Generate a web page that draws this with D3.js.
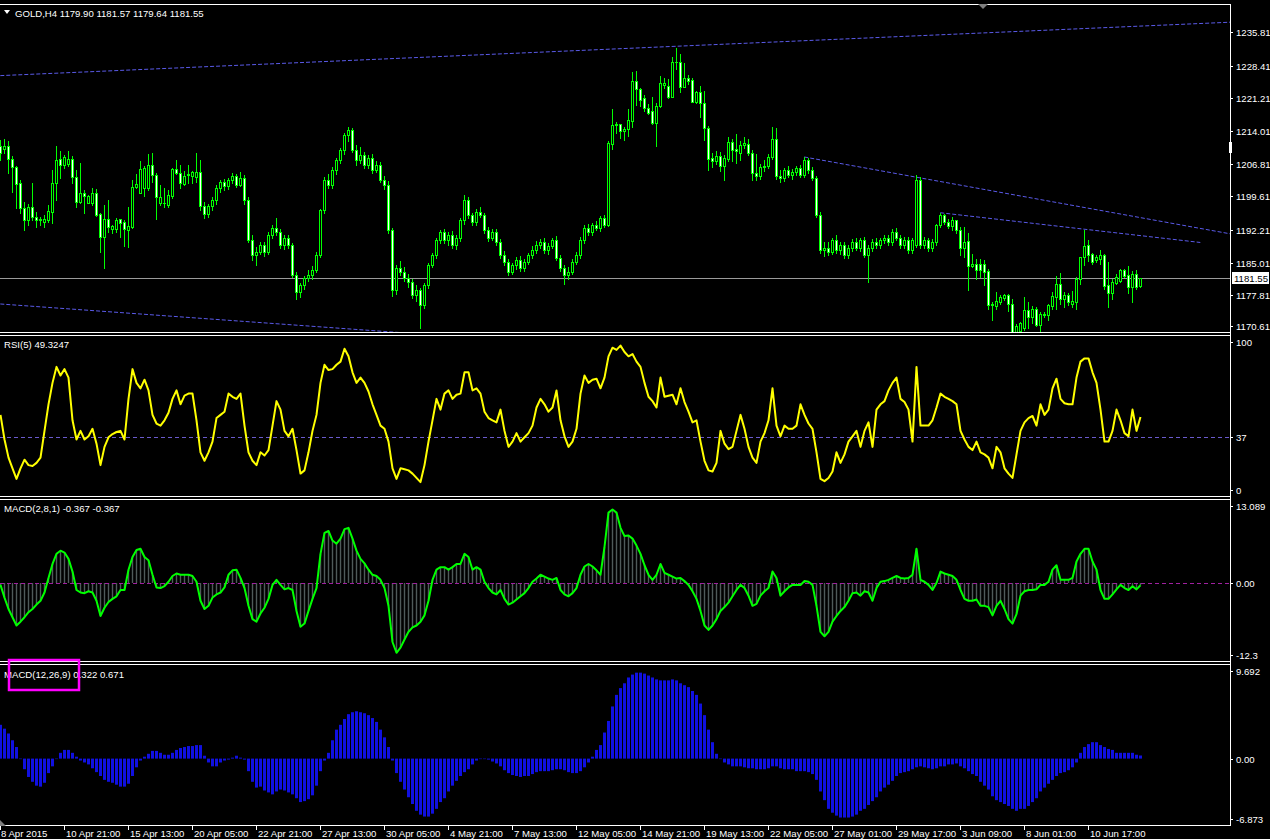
<!DOCTYPE html>
<html><head><meta charset="utf-8">
<script src="https://cdn.jsdelivr.net/npm/d3@7"></script>
<style>html,body{margin:0;padding:0;background:#000;}svg{display:block}</style>
</head><body>
<svg id="c" width="1270" height="839"></svg>
<script>
// ---------------- DATA ----------------
const symbolTitle = "GOLD,H4";
const lastQuote = ["1179.90","1181.57","1179.64","1181.55"];
const timeLabels = ["8 Apr 2015","10 Apr 21:00","15 Apr 13:00","20 Apr 05:00","22 Apr 21:00","27 Apr 13:00","30 Apr 05:00","4 May 21:00","7 May 13:00","12 May 05:00","14 May 21:00","19 May 13:00","22 May 05:00","27 May 01:00","29 May 17:00","3 Jun 09:00","8 Jun 01:00","10 Jun 17:00"];
const timeLabelBars = [0,16,32,48,64,80,96,112,128,144,160,176,192,208,224,240,256,272];
const priceTicks = [1235.81,1228.41,1221.21,1214.01,1206.81,1199.61,1192.21,1185.01,1177.81,1170.61];
const bidPrice = 1181.55;
const rsiTicks = [100,37,0];
const rsiLevel = 37;
const macdFastTicks = [13.089,0.00,-12.3];
const macdSlowTicks = [9.692,0.00,-6.873];
const macdSlowSignal = 0.671;
// open, high, low, close per H4 bar
const ohlc = [
[1210.6,1212.0,1207.6,1209.2],[1210.1,1212.2,1209.1,1210.7],[1210.7,1211.9,1204.7,1207.8],[1207.8,1208.4,1200.6,1206.0],[1206.0,1206.3,1197.1,1202.3],
[1202.5,1203.2,1196.0,1197.0],[1197.0,1198.4,1192.2,1194.5],[1194.4,1197.9,1193.3,1197.2],[1197.2,1202.6,1194.4,1195.1],[1195.1,1196.2,1192.8,1194.4],
[1194.4,1195.1,1193.3,1194.7],[1193.9,1195.5,1192.9,1194.6],[1194.4,1197.6,1194.0,1196.4],[1196.2,1205.4,1193.7,1202.6],[1202.5,1210.7,1198.8,1207.6],
[1207.8,1209.5,1203.6,1206.5],[1206.5,1208.7,1205.8,1208.2],[1206.7,1209.5,1206.2,1207.8],[1207.8,1208.5,1202.5,1203.8],[1203.9,1205.4,1197.3,1198.4],
[1198.4,1206.9,1198.1,1200.3],[1200.3,1201.0,1195.9,1199.7],[1198.2,1199.9,1198.1,1199.7],[1198.2,1201.4,1197.7,1200.4],[1200.4,1201.2,1195.3,1195.5],
[1195.7,1195.9,1187.4,1190.6],[1190.6,1197.7,1183.8,1194.6],[1194.6,1198.8,1191.8,1192.9],[1192.4,1193.3,1191.6,1193.1],[1192.4,1194.8,1191.8,1194.4],
[1194.6,1194.6,1190.6,1193.8],[1193.9,1194.4,1188.7,1192.4],[1192.2,1197.2,1188.5,1193.1],[1192.9,1203.2,1192.6,1201.6],[1201.6,1204.5,1201.4,1202.3],
[1200.4,1207.3,1200.4,1205.6],[1201.4,1206.3,1199.7,1205.8],[1201.4,1208.9,1201.0,1206.5],[1206.5,1209.2,1202.8,1204.3],[1204.3,1204.7,1194.6,1199.4],
[1198.2,1202.1,1197.7,1199.4],[1198.2,1201.4,1197.2,1198.1],[1197.7,1201.0,1197.2,1199.9],[1199.7,1205.8,1199.2,1205.6],[1205.6,1207.6,1204.5,1204.8],
[1204.8,1206.5,1201.4,1202.5],[1202.3,1205.3,1202.1,1204.1],[1204.3,1206.5,1202.5,1204.5],[1204.1,1205.3,1202.5,1205.0],[1203.9,1209.2,1202.8,1205.0],
[1205.0,1207.6,1196.5,1197.5],[1197.5,1198.4,1194.9,1195.7],[1195.7,1198.0,1195.0,1197.5],[1197.5,1199.5,1196.5,1198.8],[1198.8,1202.0,1198.0,1201.5],
[1201.5,1203.2,1200.6,1202.8],[1202.8,1203.5,1201.0,1201.9],[1201.9,1203.6,1201.2,1203.2],[1203.2,1204.8,1202.5,1204.1],[1204.1,1204.6,1201.6,1202.1],
[1202.1,1205.0,1201.8,1203.7],[1203.7,1204.3,1198.0,1198.8],[1198.8,1199.5,1189.5,1190.0],[1190.0,1191.0,1185.5,1186.7],[1186.7,1188.5,1184.5,1187.4],
[1187.4,1189.6,1186.8,1188.9],[1188.9,1189.5,1186.5,1187.4],[1187.4,1191.8,1187.0,1191.1],[1191.1,1193.3,1190.5,1192.6],[1192.6,1194.8,1191.0,1191.8],
[1191.8,1192.4,1188.2,1188.9],[1188.9,1191.0,1188.0,1190.4],[1190.4,1191.2,1188.3,1188.9],[1188.9,1189.4,1181.8,1182.3],[1182.3,1183.0,1176.9,1178.5],
[1178.5,1180.6,1177.5,1180.1],[1180.1,1182.0,1179.2,1181.6],[1181.6,1183.4,1180.9,1182.3],[1182.3,1184.2,1181.5,1183.4],[1183.4,1187.3,1182.9,1186.7],
[1186.7,1196.9,1186.2,1196.6],[1196.6,1203.8,1195.9,1203.2],[1203.2,1204.6,1201.4,1202.1],[1202.1,1206.0,1201.5,1205.4],[1205.4,1208.0,1204.6,1207.6],
[1207.6,1210.3,1206.9,1209.8],[1209.8,1213.5,1209.0,1213.1],[1213.1,1214.9,1211.8,1214.2],[1214.2,1214.6,1209.4,1209.8],[1209.8,1211.0,1206.6,1207.6],
[1207.6,1210.5,1207.0,1208.7],[1208.7,1209.4,1205.8,1206.5],[1206.5,1208.8,1205.9,1208.1],[1208.1,1208.9,1204.8,1205.4],[1205.4,1207.4,1204.9,1206.5],
[1206.5,1207.1,1202.8,1203.2],[1203.2,1204.0,1201.2,1202.1],[1202.1,1202.9,1191.6,1192.2],[1192.2,1192.6,1177.7,1179.0],[1179.0,1184.5,1178.0,1183.8],
[1183.8,1185.3,1182.2,1183.0],[1183.0,1184.0,1180.9,1181.6],[1181.6,1182.6,1179.6,1180.7],[1180.7,1181.5,1177.3,1177.9],[1177.9,1180.0,1176.6,1179.0],
[1179.0,1179.5,1170.5,1175.7],[1175.7,1180.6,1175.0,1180.1],[1180.1,1185.0,1179.4,1184.5],[1184.5,1187.2,1184.0,1186.7],[1186.7,1190.4,1186.0,1190.0],
[1190.0,1192.2,1189.4,1191.8],[1191.8,1192.5,1189.3,1190.0],[1190.0,1191.7,1188.9,1191.1],[1191.1,1191.9,1188.2,1188.9],[1188.9,1191.0,1188.0,1190.4],
[1190.4,1194.8,1189.8,1194.4],[1194.4,1199.8,1193.5,1198.8],[1198.8,1199.5,1194.9,1195.5],[1195.5,1196.0,1193.2,1194.0],[1194.0,1196.8,1193.2,1196.2],
[1196.2,1197.2,1195.0,1195.5],[1195.5,1196.0,1191.6,1192.2],[1192.2,1192.9,1189.8,1190.4],[1190.4,1192.5,1189.9,1191.8],[1191.8,1192.4,1189.0,1189.6],
[1189.6,1190.2,1186.0,1186.7],[1186.7,1187.5,1184.5,1185.2],[1185.2,1185.8,1182.3,1183.0],[1183.0,1185.0,1182.4,1184.5],[1184.5,1186.3,1183.7,1185.6],
[1185.6,1186.5,1183.2,1183.8],[1183.8,1185.7,1183.2,1185.2],[1185.2,1187.2,1184.6,1186.7],[1186.7,1188.6,1186.0,1187.8],[1187.8,1189.7,1187.1,1188.9],
[1188.9,1190.2,1188.2,1189.6],[1189.6,1190.4,1187.2,1187.8],[1187.8,1189.3,1187.0,1188.7],[1188.7,1190.5,1188.2,1190.0],[1190.0,1190.8,1185.5,1186.0],
[1186.0,1186.6,1183.2,1183.8],[1183.8,1184.5,1180.2,1182.3],[1182.3,1184.0,1181.5,1183.0],[1183.0,1185.8,1182.5,1185.2],[1185.2,1187.3,1184.6,1186.7],
[1186.7,1190.6,1186.0,1190.0],[1190.0,1193.2,1189.4,1192.6],[1192.6,1193.5,1191.0,1191.8],[1191.8,1193.8,1191.2,1193.3],[1193.3,1194.2,1192.1,1192.6],
[1192.6,1195.2,1192.0,1194.8],[1194.8,1195.5,1192.8,1193.3],[1193.3,1211.8,1193.0,1211.3],[1211.1,1218.8,1210.0,1215.3],[1215.3,1216.0,1213.6,1215.5],
[1215.5,1215.5,1212.4,1213.9],[1213.9,1214.8,1212.0,1214.5],[1214.4,1218.8,1212.9,1216.4],[1216.3,1227.0,1214.8,1225.0],[1225.0,1227.2,1219.7,1223.2],
[1223.2,1223.4,1219.4,1220.8],[1221.2,1221.9,1218.3,1219.0],[1219.0,1219.9,1217.8,1217.9],[1218.3,1221.6,1215.5,1215.8],[1215.8,1220.1,1210.7,1219.5],
[1219.4,1226.1,1219.2,1224.5],[1224.2,1225.6,1223.4,1224.6],[1224.0,1225.5,1221.3,1221.6],[1221.6,1230.2,1221.6,1229.3],[1229.3,1232.2,1227.7,1229.2],
[1229.3,1231.0,1222.5,1223.8],[1223.8,1228.9,1223.6,1225.6],[1225.6,1226.3,1224.4,1225.1],[1225.2,1225.6,1220.3,1220.5],[1220.5,1222.9,1220.1,1222.7],
[1222.7,1223.9,1217.0,1220.1],[1220.1,1222.8,1212.0,1214.6],[1214.6,1215.1,1205.4,1207.8],[1208.0,1209.1,1206.1,1207.5],[1207.5,1209.6,1206.7,1208.5],
[1208.5,1209.4,1205.1,1206.3],[1206.3,1208.7,1203.2,1208.0],[1207.8,1212.6,1207.5,1211.6],[1211.6,1212.2,1207.3,1209.8],[1210.0,1213.3,1206.9,1209.6],
[1209.1,1211.7,1207.6,1211.0],[1211.0,1212.6,1210.2,1211.3],[1211.1,1212.2,1208.7,1209.2],[1209.2,1209.9,1203.2,1204.7],[1204.7,1208.9,1203.2,1204.0],
[1204.0,1206.7,1203.4,1206.0],[1206.0,1207.6,1205.1,1206.4],[1206.3,1208.9,1205.8,1208.2],[1208.2,1214.8,1207.8,1212.2],[1212.2,1214.6,1203.4,1204.1],
[1204.1,1205.5,1202.8,1203.6],[1203.6,1205.9,1203.0,1205.4],[1205.4,1206.2,1203.8,1204.3],[1204.3,1205.6,1203.5,1205.0],[1205.0,1206.4,1204.3,1205.8],
[1205.8,1206.5,1203.9,1204.3],[1204.3,1208.3,1203.8,1207.6],[1207.6,1208.0,1204.8,1205.4],[1205.4,1206.0,1203.1,1203.6],[1203.6,1204.2,1195.0,1195.5],
[1195.5,1196.1,1187.2,1187.8],[1187.8,1189.5,1186.5,1188.2],[1188.2,1189.6,1186.7,1187.4],[1187.4,1190.5,1186.9,1190.0],[1190.0,1191.0,1187.2,1187.8],
[1187.8,1189.6,1187.0,1188.9],[1188.9,1189.5,1186.0,1186.7],[1186.7,1188.8,1186.0,1188.2],[1188.2,1190.2,1187.6,1189.6],[1189.6,1190.5,1187.7,1188.2],
[1188.2,1190.5,1187.5,1190.0],[1190.0,1190.7,1186.2,1186.7],[1186.7,1188.8,1180.8,1188.2],[1188.2,1190.2,1187.5,1189.6],[1189.6,1190.5,1188.3,1188.9],
[1188.9,1190.5,1188.3,1190.0],[1190.0,1191.2,1189.3,1190.4],[1190.4,1191.0,1189.0,1189.6],[1189.6,1192.4,1189.0,1191.8],[1191.8,1192.6,1189.9,1190.4],
[1190.4,1191.2,1188.3,1188.9],[1188.9,1190.6,1188.2,1190.0],[1190.0,1190.6,1187.2,1187.8],[1187.8,1190.4,1187.2,1190.0],[1189.0,1204.3,1188.5,1203.2],
[1203.2,1203.8,1188.3,1188.9],[1188.9,1190.6,1188.2,1190.0],[1190.0,1190.5,1187.6,1188.2],[1188.2,1190.2,1187.6,1189.6],[1189.6,1193.6,1189.0,1193.3],
[1193.3,1196.0,1192.8,1195.5],[1195.5,1195.8,1193.6,1194.0],[1194.0,1194.6,1192.6,1193.1],[1193.1,1195.1,1192.3,1194.4],[1194.4,1194.5,1191.5,1192.3],
[1192.3,1192.9,1186.7,1188.3],[1188.3,1192.9,1186.3,1189.6],[1189.8,1191.6,1179.0,1184.3],[1184.3,1186.9,1184.0,1184.8],[1184.8,1185.7,1181.5,1183.4],
[1184.7,1185.7,1181.9,1183.4],[1184.6,1185.6,1180.1,1183.0],[1183.2,1183.7,1174.9,1175.7],[1175.7,1176.4,1172.4,1175.9],[1175.5,1178.5,1174.9,1176.6],
[1176.3,1177.9,1176.0,1177.5],[1177.3,1178.2,1176.8,1177.9],[1177.9,1178.2,1174.4,1175.9],[1176.0,1177.0,1167.5,1169.0],[1169.0,1171.6,1167.5,1171.0],
[1170.0,1172.0,1168.5,1171.8],[1170.5,1177.5,1170.2,1174.6],[1174.6,1176.4,1170.5,1173.0],[1173.0,1175.5,1171.8,1174.8],[1174.8,1175.3,1171.0,1171.3],
[1171.3,1174.2,1169.8,1173.7],[1173.7,1174.2,1173.1,1173.5],[1173.5,1176.0,1172.4,1175.7],[1175.5,1178.6,1174.9,1177.7],[1177.4,1182.1,1174.9,1180.3],
[1180.3,1182.8,1176.0,1177.1],[1177.0,1178.6,1175.2,1177.9],[1177.9,1178.4,1175.7,1176.4],[1176.0,1178.8,1175.2,1176.5],[1176.4,1181.9,1174.9,1181.5],
[1181.5,1186.3,1180.4,1186.2],[1186.2,1192.3,1184.5,1188.7],[1188.9,1190.0,1185.4,1186.7],[1186.9,1187.2,1184.8,1185.2],[1185.6,1186.7,1185.2,1186.2],
[1185.9,1187.8,1184.8,1186.7],[1186.7,1186.9,1179.3,1179.9],[1180.1,1185.2,1175.3,1178.4],[1178.4,1181.3,1177.0,1180.8],[1180.6,1182.5,1180.3,1181.8],
[1181.0,1183.5,1180.8,1183.4],[1183.4,1183.7,1181.9,1182.1],[1182.3,1184.3,1178.4,1179.6],[1179.7,1183.2,1176.4,1182.6],[1182.6,1183.4,1179.1,1179.6],
[1179.90,1181.57,1179.64,1181.55]
];
const rsi = [
50.7,35.3,24,17.3,10.7, 17.3,22.7,19.3,18.7,20.7, 24,40.7,57.3,70.7,80.7, 75.3,79.3,74,47.3,35.3,
40.7,35.3,37.3,42,32.7, 19.3,30.7,36.7,38.7,40, 40.7,35.3,60.7,79.3,70.7, 67.3,72.7,66,50.7,45.3,
44,47.3,52,60.7,66, 57.3,62.7,64,64,47.3, 27.3,22,27.3,34,48.7, 50.7,52.7,64,62,60.7,
64,44,27.3,22,19.3, 27.3,25.3,28.7,44,59.3, 54,40.7,37.3,42,28.7, 14,16,27.3,40.7,50.7,
70.7,82,78.7,79.3,82, 84,92,87.3,77.3,70.7, 74,70.7,65.3,57.3,50.7, 44,42,34,17.3,10.7,
17.3,16.7,16,14,11.3, 8.7,19.3,34,47.3,60.7, 54,64,66,60.7,63.3, 64,77.3,77.3,66,67.3,
64,52.7,48.7,47.3,46, 54,40.7,30.7,34,39.3, 34,36.7,39.3,44,55.3, 60.7,57.3,52.7,55.3,66,
47.3,37.3,30.7,34,42, 64,75.3,70.7,72.7,73.3, 67.3,74,87.3,92.7,91.3, 94,90,87.3,88.7,84,
80.7,70.7,62,59.3,55.3, 74,62,62.7,63.3,57.3, 67.3,58.7,52.7,46,47.3, 34,22,16,15.3,20.7,
40.7,32.7,29.3,30.7,40.7, 50.7,42,30.7,24,20.7, 34,39.3,47.3,67.3,44, 37.3,44,42,42,44,
57.3,50.7,45.3,42,27.3, 10.7,9.3,11.3,15.3,27.3, 20.7,26,34,37.3,40.7, 30.7,40.7,46,30.7,54,
57.3,59.3,66,70.7,74, 60.7,58.7,54,34,80.7, 44,44,44,47.3,55.3, 64,62,60.7,59.3,57.3,
40.7,35.3,30.7,28.7,34, 27.3,26,24,17.3,30.7, 27.3,17.3,14,11.3,26, 40.7,46,48.7,50,44,
57.3,50.7,54,67.3,73.3, 60.7,58,57.3,57.3,74, 84,86,86,77.3,70.7, 54,34,34,40.7,54,
47.3,39.3,37.3,54,40.7, 49.3247
];
const macdFast = [
-0.3,-2.3,-4.1,-5.4,-6.7, -6.1,-5.4,-4.6,-4.1,-3.4, -2.8,-1.5,0.8,3.0,4.6, 5.1,4.8,3.8,1.8,-1.1,
-1.5,-1.6,-1.3,-1.5,-2.8, -5.2,-3.9,-3.0,-2.5,-2.1, -1.1,-1.1,2.1,4.1,5.2, 5.4,4.1,3.6,1.3,-0.7,
-0.8,-0.5,0.2,1.1,1.5, 1.3,1.3,1.3,1.1,0.2, -2.8,-4.1,-3.6,-2.3,-1.8, -1.5,-0.7,1.3,2.0,2.1,
0.8,-0.8,-3.6,-5.7,-6.1, -4.8,-3.9,-2.5,-0.3,0.5, -0.3,-1.0,-0.8,-1.1,-4.4, -6.9,-6.4,-4.4,-2.5,-0.8,
4.6,7.9,8.2,6.7,6.2, 7.0,8.5,8.7,7.0,5.1, 3.8,3.1,2.1,1.3,1.1, 0.5,-0.8,-3.6,-9.3,-11.0,
-10.2,-8.9,-7.7,-7.0,-6.7, -6.1,-5.1,-2.8,0.5,2.1, 2.5,2.5,2.1,2.5,3.0, 3.0,4.6,4.1,2.1,2.5,
2.1,0.2,-0.8,-1.5,-1.8, -1.1,-2.5,-3.4,-3.1,-2.6, -2.1,-1.6,-0.8,0.2,0.7, 1.3,1.0,0.7,0.5,0.8,
-1.1,-1.8,-2.1,-1.6,-0.8, 1.3,2.6,3.0,2.6,2.0, 1.3,5.7,11.1,11.6,11.1, 8.7,7.4,7.5,7.0,5.9,
4.6,2.8,1.3,0.5,1.3, 3.0,1.6,1.3,1.0,0.7, 0.8,0.3,-0.3,-1.3,-2.5, -4.4,-6.7,-7.4,-6.7,-5.7,
-4.4,-3.8,-3.1,-2.1,-1.1, -0.3,-0.8,-2.0,-3.6,-3.3, -2.0,-1.3,-0.8,1.8,0.8, -2.0,-1.3,-0.7,-0.3,-0.3,
-0.3,0.3,0.2,-0.3,-3.6, -7.7,-8.4,-7.7,-6.1,-5.2, -4.4,-3.8,-2.8,-1.6,-1.5, -2.0,-1.3,-1.5,-2.8,-0.8,
0.2,0.3,0.5,0.8,1.1, 0.8,0.7,0.8,1.3,5.4, 0.5,0.2,-0.3,-1.1,0, 1.8,1.5,1.3,1.1,0.5,
-1.1,-2.5,-2.8,-2.8,-2.6, -3.6,-3.6,-3.8,-5.1,-3.6, -2.8,-4.1,-5.7,-6.4,-4.9, -2.0,-1.3,-1.1,-1.1,-1.0,
-0.3,-0.3,0.2,2.1,2.8, 0.5,0.5,0.5,0.8,3.4, 4.6,5.4,5.4,3.4,2.1, -1.1,-2.5,-2.5,-1.8,-1.0,
-0.3,-0.8,-1.1,-0.5,-1.0, -0.367
];
const macdSlow = [
3.5,3.1,2.6,1.9,1.2, 0,-1.1,-1.9,-2.4,-2.8, -2.9,-2.5,-1.5,-0.8,0, 0.6,0.9,0.9,0.6,0.2,
-0.2,-0.4,-0.6,-1.0,-1.4, -1.8,-2.2,-2.4,-2.5,-2.7, -2.9,-2.9,-2.6,-1.8,-0.9, -0.2,0.2,0.5,0.8,0.8,
0.6,0.4,0.4,0.6,0.9, 1.1,1.2,1.3,1.3,1.4, 1.4,0.3,-0.4,-0.8,-0.8, -0.4,-0.2,-0.1,0.1,0.3,
0.1,-0.1,-1.3,-2.4,-3.0, -2.9,-3.3,-3.5,-3.7,-3.4, -3.2,-3.3,-3.5,-3.7,-4.1, -4.5,-4.4,-4.2,-3.8,-2.8,
-1.3,-0.2,0.6,1.9,3.0, 3.5,4.1,4.6,4.8,4.9, 4.8,4.7,4.5,4.2,3.8, 3.0,2.2,1.2,-0.2,-1.5,
-2.4,-3.2,-4.0,-4.7,-5.4, -5.8,-6.0,-6.0,-5.7,-5.2, -4.5,-4.1,-3.4,-2.8,-2.3, -1.8,-1.4,-1.1,-0.6,-0.2,
0,0,-0.1,-0.3,-0.5, -0.8,-1.2,-1.5,-1.7,-1.8, -1.9,-1.8,-1.8,-1.6,-1.4, -1.3,-1.3,-1.3,-1.2,-1.1,
-1.1,-1.2,-1.4,-1.5,-1.5, -1.3,-0.9,-0.4,0.2,0.9, 1.4,2.7,3.9,5.4,6.6, 7.3,7.8,8.4,8.7,8.9,
8.9,8.8,8.6,8.4,8.2, 8.1,8.1,8.1,8.2,8.1, 7.8,7.6,7.4,7.0,6.6, 5.7,4.5,3.0,1.7,0.5,
0,-0.4,-0.6,-0.8,-0.8, -0.8,-0.9,-1.0,-1.0,-1.1, -1.1,-1.1,-1.0,-0.8,-0.8, -1.0,-1.1,-1.1,-1.1,-1.3,
-1.3,-1.3,-1.4,-1.6,-2.2, -3.4,-4.3,-5.2,-5.6,-5.9, -6.1,-6.1,-6.1,-6.0,-5.8, -5.4,-5.2,-4.8,-4.4,-4.0,
-3.4,-3.0,-2.7,-2.3,-1.8, -1.5,-1.4,-1.3,-1.1,-0.9, -0.8,-0.9,-1.0,-1.1,-1.0, -0.8,-0.8,-0.6,-0.6,-0.5,
-0.8,-1.0,-1.3,-1.6,-1.8, -2.4,-2.8,-3.2,-3.9,-4.3, -4.5,-4.7,-4.9,-5.2,-5.4, -5.2,-5.2,-4.9,-4.5,-4.1,
-3.4,-3.0,-2.6,-2.2,-1.8, -1.5,-1.4,-1.2,-0.9,-0.4, 0.6,1.2,1.5,1.7,1.7, 1.4,1.2,1.0,0.9,0.6,
0.6,0.6,0.6,0.6,0.4, 0.322
];
// trend lines: [bar, price] anchors
const trendUpper = [[0,1226.2],[307,1237.95]];
const trendLowerLeft = [[0,1175.9],[50,1172.75]];
const trendDownA = [[201,1208.28],[305,1191.75]];
const trendDownB = [[235,1196.0],[300,1189.45]];

// ---------------- LAYOUT ----------------
const W = 1270, H = 839, AX = 1230;
const FONT = "'Liberation Sans', Arial, sans-serif";
const FS = 9.6;
const P = {
  main: {top:5, bottom:332},
  rsi:  {top:336, bottom:496},
  m1:   {top:500, bottom:661},
  m2:   {top:665, bottom:825}
};
const svg = d3.select('#c');
svg.append('rect').attr('width',W).attr('height',H).attr('fill','#000');

const x = d3.scaleLinear().domain([0,285]).range([0.3,1140.3]);
const px = i => Math.round(x(i));
const yP = d3.scaleLinear().domain([1170.61,1235.81]).range([328,32]);
const yR = d3.scaleLinear().domain([0,100]).range([P.rsi.bottom,P.rsi.top]);
const yM1 = d3.scaleLinear().domain([-12.3,13.089]).range([P.m1.bottom,P.m1.top]);
const yM2 = d3.scaleLinear().domain([-6.873,9.692]).range([P.m2.bottom,P.m2.top]);

const defs = svg.append('defs');
function clip(id,p){
  defs.append('clipPath').attr('id',id).append('rect').attr('x',0).attr('y',p.top).attr('width',AX).attr('height',p.bottom-p.top);
}
clip('cm',P.main); clip('cr',P.rsi); clip('c1',P.m1); clip('c2',P.m2);

// ---------- main panel ----------
const gm = svg.append('g').attr('clip-path','url(#cm)');
const byy = Math.round(yP(bidPrice))+0.5;
gm.append('line').attr('x1',0).attr('x2',AX).attr('y1',byy).attr('y2',byy)
  .attr('stroke','#9a9a9a').attr('stroke-width',1);
function trend(anch, extend){
  const [a,b] = anch;
  const slope = (b[1]-a[1])/(b[0]-a[0]);
  const endBar = extend ? x.invert(AX) : b[0];
  const pts = [[a[0],a[1]],[endBar, a[1]+slope*(endBar-a[0])]];
  gm.append('path').attr('d', d3.line().x(d=>x(d[0])).y(d=>yP(d[1]))(pts))
    .attr('fill','none').attr('stroke','#5a5ae8').attr('stroke-width',1).attr('stroke-dasharray','4,2');
}
trend(trendUpper,true); trend(trendLowerLeft,true); trend(trendDownA,true); trend(trendDownB,false);
const cg = gm.append('g');
ohlc.forEach((d,i)=>{
  const [o,h,l,c] = d; const cx = px(i);
  cg.append('line').attr('x1',cx+0.5).attr('x2',cx+0.5).attr('y1',Math.round(yP(h))).attr('y2',Math.round(yP(l))+1)
    .attr('stroke','#00ff00').attr('stroke-width',1);
  const yt = Math.round(yP(Math.max(o,c))), yb = Math.round(yP(Math.min(o,c)));
  cg.append('rect').attr('x',cx-0.5).attr('y',yt+0.5).attr('width',2).attr('height',Math.max(0.01,yb-yt))
    .attr('fill', c < o ? '#ffffff' : '#000000').attr('stroke','#00ff00').attr('stroke-width',1);
});

// ---------- RSI ----------
const gr = svg.append('g').attr('clip-path','url(#cr)');
const ry = Math.round(yR(rsiLevel))+0.5;
gr.append('line').attr('x1',0).attr('x2',AX).attr('y1',ry).attr('y2',ry)
  .attr('stroke','#6a5acd').attr('stroke-dasharray','4,3');
gr.append('path').attr('d', d3.line().x((d,i)=>px(i)+0.5).y(d=>yR(d))(rsi))
  .attr('fill','none').attr('stroke','#ffff00').attr('stroke-width',2).attr('stroke-linejoin','round');

// ---------- MACD fast ----------
const g1 = svg.append('g').attr('clip-path','url(#c1)');
macdFast.forEach((v,i)=>{
  g1.append('line').attr('x1',px(i)+0.5).attr('x2',px(i)+0.5).attr('y1',yM1(0)).attr('y2',yM1(v))
    .attr('stroke','#4f5a5a').attr('stroke-width',1.4);
});
const zy = Math.round(yM1(0))+0.5;
g1.append('line').attr('x1',0).attr('x2',AX).attr('y1',zy).attr('y2',zy)
  .attr('stroke','#a020a0').attr('stroke-dasharray','4,3');
g1.append('path').attr('d', d3.line().x((d,i)=>px(i)+0.5).y(d=>yM1(d))(macdFast))
  .attr('fill','none').attr('stroke','#00ff00').attr('stroke-width',2).attr('stroke-linejoin','round');

// ---------- MACD slow ----------
const g2 = svg.append('g').attr('clip-path','url(#c2)');
macdSlow.forEach((v,i)=>{
  const y0 = yM2(0), y1 = yM2(v);
  g2.append('rect').attr('x',px(i)-1).attr('width',3).attr('y',Math.min(y0,y1)).attr('height',Math.max(0.5,Math.abs(y1-y0)))
    .attr('fill','#1010e0');
});

// ---------- frames ----------
const fr = svg.append('g').attr('stroke','#fff').attr('stroke-width',1);
fr.append('line').attr('x1',0).attr('x2',AX).attr('y1',4.5).attr('y2',4.5);
[P.main.bottom+0.5,P.rsi.top-0.5,P.rsi.bottom+0.5,P.m1.top-0.5,P.m1.bottom+0.5,P.m2.top-0.5,P.m2.bottom+0.5].forEach(yy=>{
  fr.append('line').attr('x1',0).attr('x2',AX+1).attr('y1',yy).attr('y2',yy);
});
fr.append('line').attr('x1',AX+0.5).attr('x2',AX+0.5).attr('y1',4).attr('y2',P.m2.bottom+1);
svg.append('rect').attr('x',AX-1).attr('y',142).attr('width',3).attr('height',11).attr('fill','#fff');
svg.append('path').attr('d','M978,4 L988,4 L983,9 Z').attr('fill','#7f7f7f');
svg.append('path').attr('d','M0,820 L0,826 L6,826 Z').attr('fill','#7f7f7f');

// ---------- labels ----------
const txt = (g,xx,yy,s,opt={}) => g.append('text').attr('x',xx).attr('y',yy).text(s)
  .attr('fill',opt.fill||'#fff').attr('font-family',FONT).attr('font-size',opt.size||FS)
  .attr('dominant-baseline','central');
const lab = svg.append('g');
function rightAxis(ticks, scale, p, fmt){
  ticks.forEach(t=>{
    let yy = Math.round(scale(t));
    yy = Math.max(p.top+6, Math.min(p.bottom-6, yy));
    lab.append('line').attr('x1',AX).attr('x2',AX+3).attr('y1',yy+0.5).attr('y2',yy+0.5).attr('stroke','#fff');
    txt(lab, AX+6, yy+0.5, fmt(t));
  });
}
rightAxis(priceTicks, yP, P.main, t=>t.toFixed(2));
rightAxis(rsiTicks, yR, P.rsi, t=>String(t));
rightAxis(macdFastTicks, yM1, P.m1, t=>t===0?'0.00':String(t));
rightAxis(macdSlowTicks, yM2, P.m2, t=>t===0?'0.00':String(t));
const by = Math.round(yP(bidPrice));
lab.append('rect').attr('x',AX+2).attr('y',by-6).attr('width',37).attr('height',12).attr('fill','#fff');
txt(lab, AX+4, by+0.5, bidPrice.toFixed(2), {fill:'#000'});

timeLabelBars.forEach((b,k)=>{
  const xx = px(b);
  lab.append('line').attr('x1',xx+0.5).attr('x2',xx+0.5).attr('y1',P.m2.bottom+1).attr('y2',P.m2.bottom+5).attr('stroke','#fff');
  txt(lab, k===0 ? 1 : xx+2, 833, timeLabels[k]);
});

lab.append('path').attr('d','M4,10 L10,10 L7,14 Z').attr('fill','#fff');
txt(lab, 15, 13, symbolTitle + '  ' + lastQuote.join(' '));
txt(lab, 4, 344, 'RSI(5) ' + rsi[rsi.length-1].toFixed(4));
const mf = macdFast[macdFast.length-1].toFixed(3);
txt(lab, 4, 508, 'MACD(2,8,1) ' + mf + ' ' + mf);
txt(lab, 4, 674, 'MACD(12,26,9) ' + macdSlow[macdSlow.length-1].toFixed(3) + ' ' + macdSlowSignal.toFixed(3));
svg.append('rect').attr('x',9).attr('y',660).attr('width',70).attr('height',30)
  .attr('fill','none').attr('stroke','#ff00ff').attr('stroke-width',2.5);
</script>
</body></html>
